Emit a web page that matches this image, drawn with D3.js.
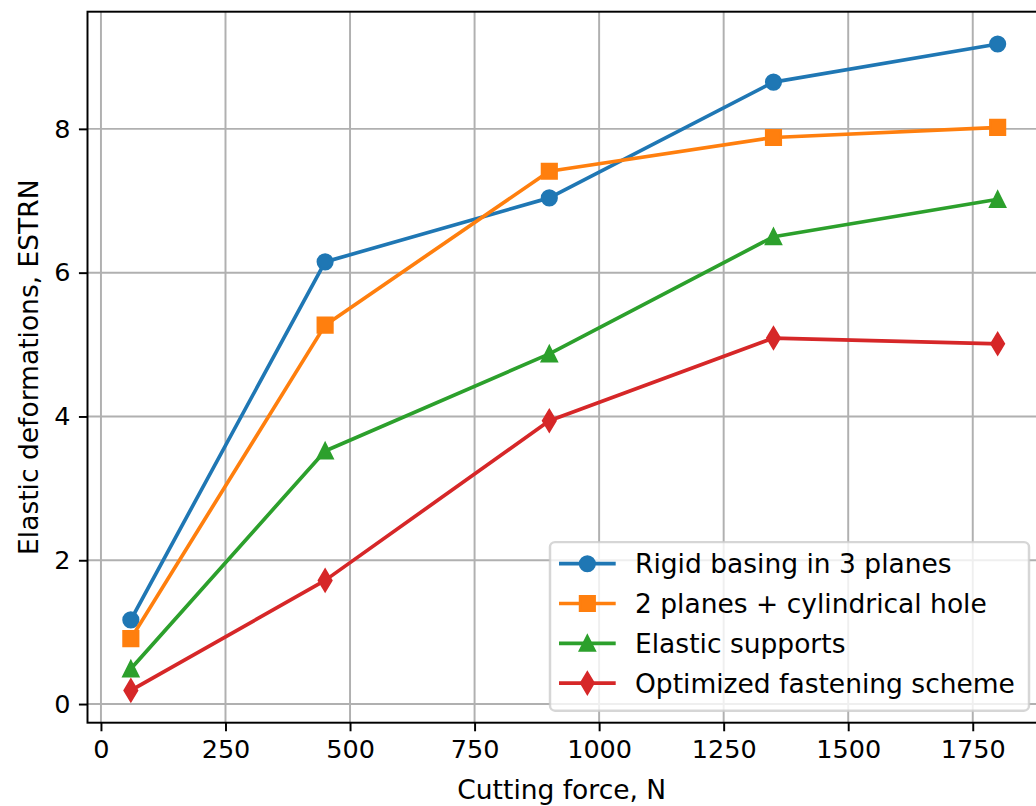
<!DOCTYPE html>
<html>
<head>
<meta charset="utf-8">
<script src="https://cdn.jsdelivr.net/npm/d3@7"></script>
<style>
html, body { margin: 0; padding: 0; background: #fff; overflow: hidden; }
svg { display: block; font-family: "DejaVu Sans", sans-serif; }
</style>
</head>
<body>
<svg id="chart" width="1036" height="806"></svg>
<script>
const forces = [60, 450, 900, 1350, 1800];
const rigidBasing = [1.17, 6.15, 7.04, 8.65, 9.18];
const twoPlanesHole = [0.91, 5.27, 7.41, 7.88, 8.02];
const elasticSupports = [0.49, 3.52, 4.87, 6.50, 7.02];
const optimizedScheme = [0.19, 1.72, 3.94, 5.09, 5.01];
const seriesNames = ["Rigid basing in 3 planes", "2 planes + cylindrical hole", "Elastic supports", "Optimized fastening scheme"];
const seriesColors = ["#1f77b4", "#ff7f0e", "#2ca02c", "#d62728"];
const seriesMarkers = ["circle", "square", "triangle", "thinDiamond"];
const xTicks = [0, 250, 500, 750, 1000, 1250, 1500, 1750];
const yTicks = [0, 2, 4, 6, 8];
const xLabel = "Cutting force, N";
const yLabel = "Elastic deformations, ESTRN";

const seriesValues = [rigidBasing, twoPlanesHole, elasticSupports, optimizedScheme];
const series = seriesNames.map((name, i) => ({
  name, color: seriesColors[i], marker: seriesMarkers[i],
  points: forces.map((f, j) => ({x: f, y: seriesValues[i][j]}))
}));

const PT = 2.45; // px per pt
const svg = d3.select("#chart");
const margin = {left: 87.5, top: 11.7, right: -5, bottom: 83.3};
const W = 1036 - margin.left - margin.right;
const H = 806 - margin.top - margin.bottom;

function padded(ext) { const r = ext[1] - ext[0]; return [ext[0] - 0.05 * r, ext[1] + 0.05 * r]; }
const xDom = padded(d3.extent(forces));
const yDom = padded(d3.extent(seriesValues.flat()));
const x = d3.scaleLinear().domain(xDom).range([0, W]);
const y = d3.scaleLinear().domain(yDom).range([H, 0]);

const g = svg.append("g").attr("transform", `translate(${margin.left},${margin.top})`);

// grid
g.append("g").selectAll("line").data(xTicks).join("line")
  .attr("x1", d => x(d)).attr("x2", d => x(d)).attr("y1", 0).attr("y2", H)
  .attr("stroke", "#b0b0b0").attr("stroke-width", 0.8 * PT);
g.append("g").selectAll("line").data(yTicks).join("line")
  .attr("x1", 0).attr("x2", W).attr("y1", d => y(d)).attr("y2", d => y(d))
  .attr("stroke", "#b0b0b0").attr("stroke-width", 0.8 * PT);

// marker paths
const ms = 6 * PT;
function markerPath(type, s) {
  const h = s / 2;
  if (type === "circle") { const p = d3.path(); p.arc(0, 0, h, 0, 2 * Math.PI); p.closePath(); return p.toString(); }
  if (type === "square") return `M${-h},${-h}L${h},${-h}L${h},${h}L${-h},${h}Z`;
  if (type === "triangle") return `M0,${-h}L${h},${h}L${-h},${h}Z`;
  if (type === "thinDiamond") { const d = s * Math.SQRT1_2; const w = 0.6 * d; return `M0,${-d}L${w},0L0,${d}L${-w},0Z`; }
  return "";
}

const line = d3.line().x(d => x(d.x)).y(d => y(d.y));
const plot = g.append("g");
series.forEach(s => {
  plot.append("path").datum(s.points).attr("d", line)
    .attr("fill", "none").attr("stroke", s.color).attr("stroke-width", 1.5 * PT)
    .attr("stroke-linejoin", "round").attr("stroke-linecap", "square");
  plot.append("g").selectAll("path").data(s.points).join("path")
    .attr("transform", d => `translate(${x(d.x)},${y(d.y)})`)
    .attr("d", markerPath(s.marker, ms))
    .attr("fill", s.color).attr("stroke", s.color).attr("stroke-width", 1 * PT)
    .attr("stroke-linejoin", "miter");
});

// spines
const spineW = 0.8 * PT;
g.append("rect").attr("x", 0).attr("y", 0).attr("width", W).attr("height", H)
  .attr("fill", "none").attr("stroke", "#000").attr("stroke-width", spineW);

// axes
const tickLen = 3.5 * PT, tickPad = 3.5 * PT;
const xAxis = g.append("g").attr("transform", `translate(0,${H})`)
  .call(d3.axisBottom(x).tickValues(xTicks).tickFormat(d3.format("d")).tickSize(tickLen).tickPadding(tickPad));
const yAxis = g.append("g")
  .call(d3.axisLeft(y).tickValues(yTicks).tickFormat(d3.format("d")).tickSize(tickLen).tickPadding(tickPad));
[xAxis, yAxis].forEach(a => {
  a.select(".domain").remove();
  a.selectAll(".tick line").attr("stroke", "#000").attr("stroke-width", spineW);
  a.selectAll(".tick text").attr("fill", "#000").style("font-size", "25.5px").style("font-family", "'DejaVu Sans', sans-serif");
});

// axis labels
const labelFs = 26.5;
g.append("text").attr("x", W / 2 - 2.5).attr("y", H + 76).attr("text-anchor", "middle")
  .style("font-size", labelFs + "px").attr("fill", "#000").text(xLabel);
g.append("text").attr("transform", `translate(${28.6 - margin.left + 9.5},${H / 2}) rotate(-90)`)
  .attr("text-anchor", "middle").style("font-size", labelFs + "px").attr("fill", "#000").text(yLabel);

// legend
const fs = 26.5;
const lg = g.append("g");
const rowH = 39.8;
const lgW = 479, lgH = 168.6;
const lgX = W - 12 - lgW, lgY = H - 12 - lgH;
lg.append("rect").attr("x", lgX).attr("y", lgY).attr("width", lgW).attr("height", lgH)
  .attr("rx", 5).attr("fill", "#fff").attr("fill-opacity", 0.8)
  .attr("stroke", "#cccccc").attr("stroke-opacity", 0.8).attr("stroke-width", 1 * PT);
series.forEach((s, i) => {
  const cy = lgY + 21.6 + i * rowH;
  const x0 = lgX + 9, x1 = lgX + 65.7;
  lg.append("line").attr("x1", x0).attr("x2", x1).attr("y1", cy).attr("y2", cy)
    .attr("stroke", s.color).attr("stroke-width", 1.5 * PT);
  lg.append("path").attr("transform", `translate(${(x0 + x1) / 2},${cy})`)
    .attr("d", markerPath(s.marker, ms)).attr("fill", s.color).attr("stroke", s.color).attr("stroke-width", 1 * PT);
  lg.append("text").attr("x", lgX + 85).attr("y", cy).attr("dy", "0.36em")
    .style("font-size", fs + "px").attr("fill", "#000").text(s.name);
});
</script>
</body>
</html>
